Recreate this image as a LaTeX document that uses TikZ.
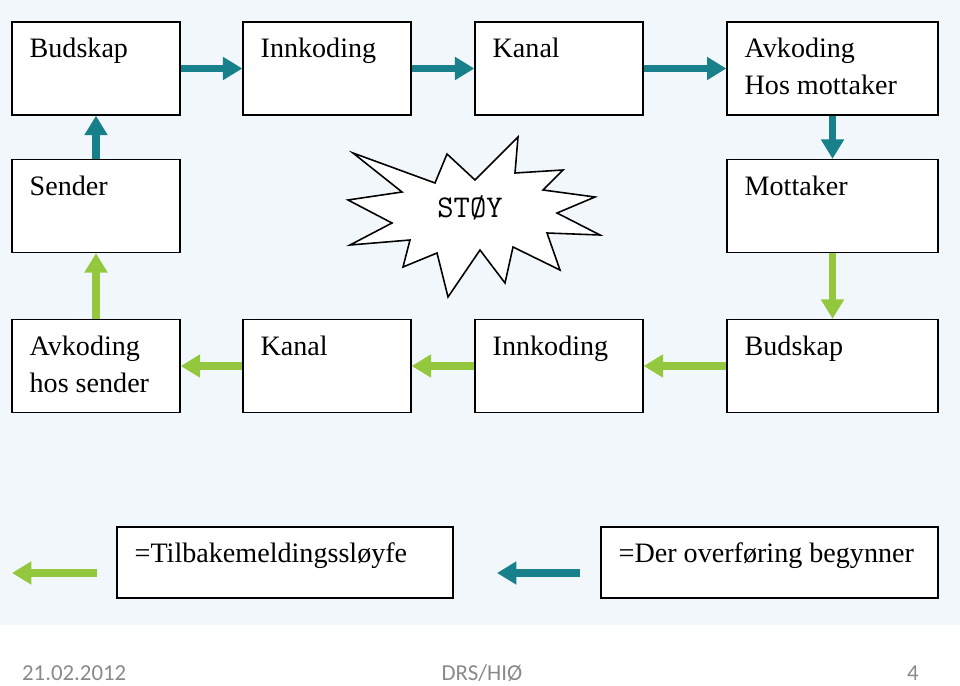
\documentclass[tikz,border=0pt]{standalone}
\usepackage{fontspec}
\setmainfont{Liberation Serif}
\newfontfamily\footfont{Carlito}
\usepackage{xcolor}
\definecolor{cTeal}{HTML}{17808A}
\definecolor{cGreen}{HTML}{93C83E}
\definecolor{cBack}{HTML}{F1F7FA}
\definecolor{cFoot}{HTML}{8A8A8A}
\usetikzlibrary{positioning,arrows.meta}
\tikzset{
  node-box/.style={draw=black,line width=0.8pt,fill=white,
    minimum width=3.36cm,minimum height=1.86cm,inner sep=0pt},
  node-wide/.style={node-box,minimum width=4.22cm},
  node-key/.style={node-box,minimum width=6.72cm,minimum height=1.42cm},
  node-label/.style={anchor=north west,inner sep=0pt,align=left,
    font=\fontsize{16}{21}\selectfont,xshift=0.36cm,yshift=-0.33cm},
  arrow-teal/.style={-{Triangle[length=11pt,width=12.5pt]},line width=4pt,draw=cTeal},
  arrow-green/.style={-{Triangle[length=11pt,width=12.5pt]},line width=4pt,draw=cGreen},
  foot/.style={font=\footfont\fontsize{13}{15}\selectfont,text=cFoot,inner sep=1pt},
}

\begin{document}
\begin{tikzpicture}[x=0.02cm,y=-0.02cm]
  \useasboundingbox (0,0) rectangle (960,686);
  \fill[cBack] (0,0) rectangle (960,625);
  % sender side
  \node[node-box,label={[node-label]north west:Budskap}] (budskap1) at (96,68.5) {};
  \node[node-box,label={[node-label]north west:Innkoding}] (innkoding1) at (327,68.5) {};
  \node[node-box,label={[node-label]north west:Kanal}] (kanal1) at (559,68.5) {};
  \node[node-wide,label={[node-label]north west:Avkoding\\Hos mottaker}] (avkoding1) at (832.5,68.5) {};
  \node[node-box,label={[node-label]north west:Sender}] (sender) at (96,206) {};
  \node[node-wide,label={[node-label]north west:Mottaker}] (mottaker) at (832.5,206) {};
  % feedback side
  \node[node-box,label={[node-label]north west:Avkoding\\hos sender}] (avkoding2) at (96,366) {};
  \node[node-box,label={[node-label]north west:Kanal}] (kanal2) at (327,366) {};
  \node[node-box,label={[node-label]north west:Innkoding}] (innkoding2) at (559,366) {};
  \node[node-wide,label={[node-label]north west:Budskap}] (budskap2) at (832.5,366) {};
  % legend
  \node[node-key,label={[node-label]north west:=Tilbakemeldingssløyfe}] (key-green) at (285,562.5) {};
  \node[node-key,minimum width=6.74cm,label={[node-label]north west:=Der overføring begynner}] (key-teal) at (769.5,562.5) {};

  \draw[arrow-teal] (sender) -- (budskap1);
  \draw[arrow-teal] (budskap1) -- (innkoding1);
  \draw[arrow-teal] (innkoding1) -- (kanal1);
  \draw[arrow-teal] (kanal1) -- (avkoding1);
  \draw[arrow-teal] (avkoding1) -- (mottaker);
  \draw[arrow-green] (mottaker) -- (budskap2);
  \draw[arrow-green] (budskap2) -- (innkoding2);
  \draw[arrow-green] (innkoding2) -- (kanal2);
  \draw[arrow-green] (kanal2) -- (avkoding2);
  \draw[arrow-green] (avkoding2) -- (sender);

  \coordinate (g-from) at (97,573);
  \coordinate (g-to) at (12,573);
  \coordinate (t-from) at (580,573);
  \coordinate (t-to) at (497,573);
  \draw[arrow-green] (g-from) -- (g-to);
  \draw[arrow-teal] (t-from) -- (t-to);

  % noise
  \draw[line width=0.9pt,fill=white,line join=miter]
    (353,153) -- (435,183) -- (447,154) -- (475,180) -- (518,137) -- (515,173)
    -- (563,170) -- (543,190) -- (595,197) -- (557,213) -- (600,235) -- (547,233)
    -- (560,270) -- (513,247) -- (505,283) -- (480,250) -- (448,297) -- (437,253)
    -- (403,267) -- (410,240) -- (350,245) -- (392,223) -- (348,200) -- (402,192)
    -- cycle;
  \node[font=\ttfamily\fontsize{18}{20}\selectfont] (stoy) at (470,208) {STØY};

  % footer
  \node[foot,anchor=west] (dato) at (20,673) {21.02.2012};
  \node[foot] (kilde) at (482,673) {DRS/HIØ};
  \node[foot] (side) at (913,673) {4};
\end{tikzpicture}
\end{document}
